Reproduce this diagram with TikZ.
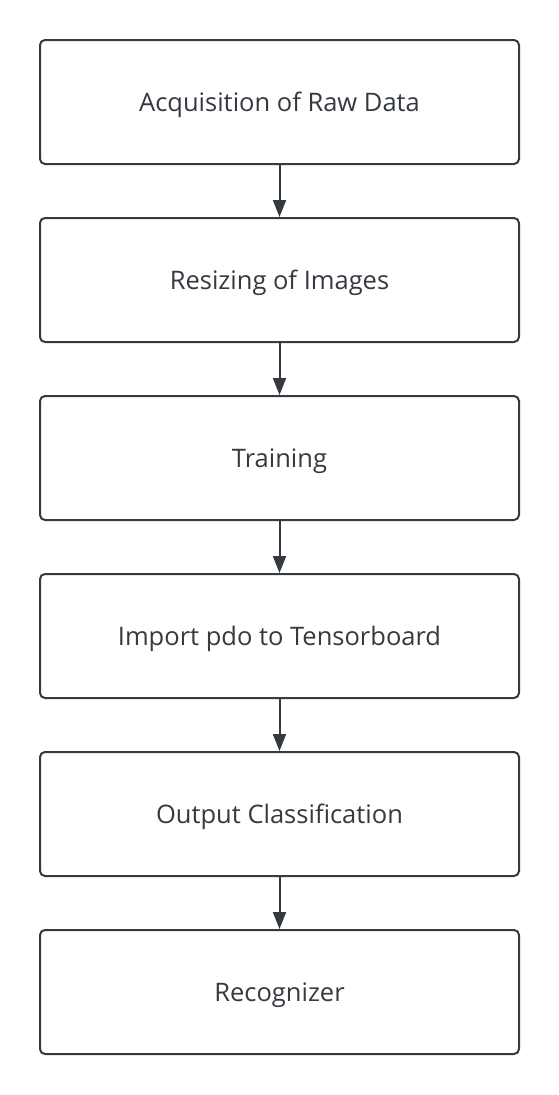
\documentclass[tikz,border=0pt]{standalone}
\usepackage{fontspec}
\setmainfont{Open Sans}
\usetikzlibrary{arrows.meta}
\definecolor{ink}{HTML}{343A40}
\begin{document}
\begin{tikzpicture}[x=1pt,y=-1pt,
  stepbox/.style={draw=ink,line width=2pt,rounded corners=5pt,minimum width=479pt,minimum height=124pt,inner sep=0pt,
    text height=22pt,text depth=4pt,
    font=\fontsize{25.5}{30}\selectfont,text=ink},
  conn/.style={draw=ink,line width=2pt,-{Triangle[length=17pt,width=13pt]}}]
\useasboundingbox[fill=white] (0,0) rectangle (558,1095);
\node[stepbox] (b1) at (279.5,102) {Acquisition of Raw Data};
\node[stepbox] (b2) at (279.5,280) {Resizing of Images};
\node[stepbox] (b3) at (279.5,458) {Training};
\node[stepbox] (b4) at (279.5,636) {Import pdo to Tensorboard};
\node[stepbox] (b5) at (279.5,814) {Output Classification};
\node[stepbox] (b6) at (279.5,992) {Recognizer};
\draw[conn] (b1) -- (b2);
\draw[conn] (b2) -- (b3);
\draw[conn] (b3) -- (b4);
\draw[conn] (b4) -- (b5);
\draw[conn] (b5) -- (b6);
\end{tikzpicture}
\end{document}
